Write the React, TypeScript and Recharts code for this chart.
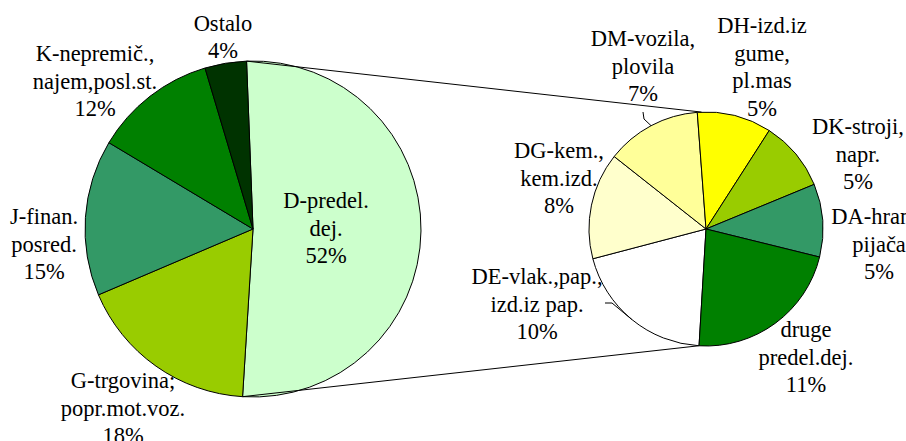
import React from 'react';
import { PieChart, Pie, Cell } from 'recharts';

// main pie (share of total, %)
const mainNames = ['D-predel.\ndej.', 'G-trgovina;\npopr.mot.voz.', 'J-finan.\nposred.', 'K-nepremič.,\nnajem,posl.st.', 'Ostalo'];
const mainValues = [51.6, 17.6, 15.0, 11.8, 4.0];
const mainColors = ['#CCFFCC', '#99CC00', '#339966', '#008000', '#003300'];

// breakdown of D-predel. dej. (share of total, %)
const subNames = [
  'DE-vlak.,pap.,\nizd.iz pap.',
  'DG-kem.,\nkem.izd.',
  'DM-vozila,\nplovila',
  'DH-izd.iz\ngume,\npl.mas',
  'DK-stroji,\nnapr.',
  'DA-hrana,\npijača',
  'druge\npredel.dej.',
];
const subValues = [10.3, 7.6, 6.8, 5.3, 5.0, 5.2, 11.4];
const subColors = ['#FFFFFF', '#FFFFCC', '#FFFF99', '#FFFF00', '#99CC00', '#339966', '#008000'];

const mainData = mainNames.map((name, i) => ({ name, value: mainValues[i] }));
const subData = subNames.map((name, i) => ({ name, value: subValues[i] }));
const grandTotal = mainValues.reduce((a, b) => a + b, 0);

// layout
const W = 906;
const H = 441;
const MAIN = { cx: 253, cy: 229, r: 168, start: 92.2 };
const SUB = { cx: 706, cy: 229, r: 117, start: -93.4 };
const FONT = '"Liberation Serif", "DejaVu Serif", "Noto Serif", Tinos, "Times New Roman", Times, serif';
const FONT_SIZE = 22.5;
const LINE_H = 27.5;

// label block centres, relative to the pie centre
const mainLabelPos = [[73, -1], [-130, 179], [-209, 15], [-158, -148], [-30, -192]];
const subLabelPos = [[-169, 75], [-147, -51], [-63, -163], [56, -162], [152, -75], [173, 15], [100, 128]];
// leader lines (start, elbow) relative to pie centre; end point is on the arc
const subLeaders: Record<number, number[][]> = {
  0: [[-101, 74], [-94, 74]],
  2: [[-63, -117], [-62, -110]],
};

const RAD = Math.PI / 180;
const polar = (cx: number, cy: number, r: number, a: number) => [cx + r * Math.cos(-a * RAD), cy + r * Math.sin(-a * RAD)];

function TextBlock({ x, y, lines }: { x: number; y: number; lines: string[] }) {
  const n = lines.length;
  return (
    <text x={x} y={y} textAnchor="middle" fill="#000" fontFamily={FONT} fontSize={FONT_SIZE}>
      {lines.map((l, i) => (
        <tspan key={i} x={x} y={y + (i - (n - 1) / 2) * LINE_H} dominantBaseline="central" fontFamily={FONT}>
          {l}
        </tspan>
      ))}
    </text>
  );
}

function mainLabel(props: any) {
  const { cx, cy, index, value, name, startAngle, endAngle } = props;
  const [dx, dy] = mainLabelPos[index];
  const lines = [...String(name).split('\n'), `${Math.round((value / grandTotal) * 100)}%`];
  let connectors = null;
  if (index === 0) {
    // pie-of-pie connector lines from the D slice edge to the secondary pie
    const [x1, y1] = polar(cx, cy, MAIN.r, startAngle);
    const [x2, y2] = polar(SUB.cx, SUB.cy, SUB.r, startAngle);
    const [x3, y3] = polar(cx, cy, MAIN.r, endAngle);
    const [x4, y4] = polar(SUB.cx, SUB.cy, SUB.r, endAngle);
    connectors = (
      <g stroke="#000" strokeWidth={1}>
        <line x1={x1} y1={y1} x2={x2} y2={y2} />
        <line x1={x3} y1={y3} x2={x4} y2={y4} />
      </g>
    );
  }
  return (
    <g>
      {connectors}
      <TextBlock x={cx + dx} y={cy + dy} lines={lines} />
    </g>
  );
}

function subLabel(props: any) {
  const { cx, cy, index, value, name, midAngle, outerRadius } = props;
  const [dx, dy] = subLabelPos[index];
  const lines = [...String(name).split('\n'), `${Math.round((value / grandTotal) * 100)}%`];
  const leader = subLeaders[index];
  let path = null;
  if (leader) {
    const [ex, ey] = polar(cx, cy, outerRadius, midAngle);
    const d = `M${cx + leader[0][0]},${cy + leader[0][1]} L${cx + leader[1][0]},${cy + leader[1][1]} L${ex},${ey}`;
    path = <path d={d} stroke="#000" strokeWidth={1} fill="none" />;
  }
  return (
    <g>
      {path}
      <TextBlock x={cx + dx} y={cy + dy} lines={lines} />
    </g>
  );
}

export default function App() {
  return (
    <div
      style={{ position: 'absolute', left: 0, top: 0, width: W, height: H, background: '#fff', fontFamily: FONT }}
    >
      <PieChart width={W} height={H} margin={{ top: 0, right: 0, bottom: 0, left: 0 }} style={{ fontFamily: FONT }}>
        <Pie
          data={mainData}
          dataKey="value"
          nameKey="name"
          cx={MAIN.cx}
          cy={MAIN.cy}
          outerRadius={MAIN.r}
          startAngle={MAIN.start}
          endAngle={MAIN.start - 360}
          label={mainLabel}
          labelLine={false}
          isAnimationActive={false}
        >
          {mainData.map((d, i) => (
            <Cell key={d.name} fill={mainColors[i]} stroke="#000" strokeWidth={1} />
          ))}
        </Pie>
        <Pie
          data={subData}
          dataKey="value"
          nameKey="name"
          cx={SUB.cx}
          cy={SUB.cy}
          outerRadius={SUB.r}
          startAngle={SUB.start}
          endAngle={SUB.start - 360}
          label={subLabel}
          labelLine={false}
          isAnimationActive={false}
        >
          {subData.map((d, i) => (
            <Cell key={d.name} fill={subColors[i]} stroke="#000" strokeWidth={1} />
          ))}
        </Pie>
      </PieChart>
    </div>
  );
}
